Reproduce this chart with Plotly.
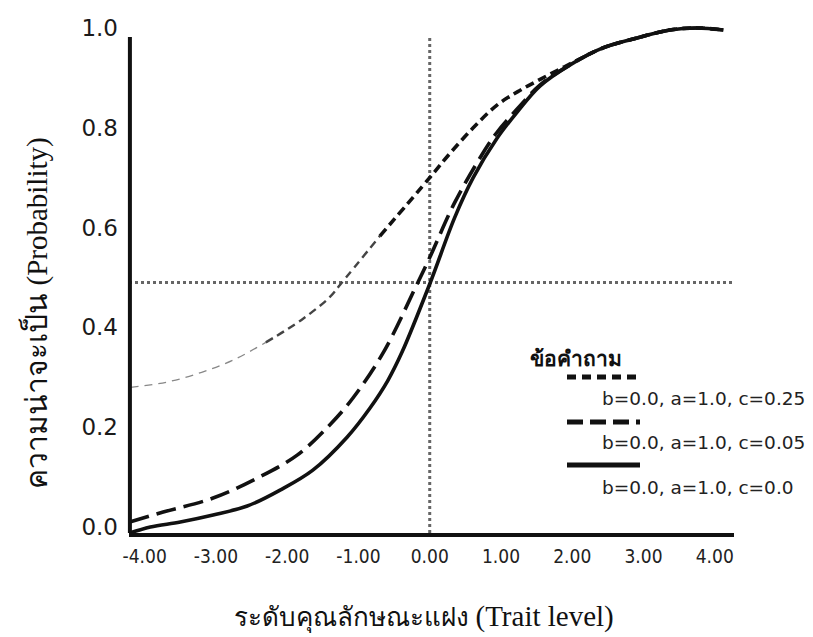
import plotly.graph_objects as go

# ---- data ----
theta_c25 = [-4.2, -3.7, -3.2, -2.75, -2.3, -1.8, -1.4, -1.26, -0.7, 0.0, 0.28, 0.61, 0.94, 1.23, 1.55, 1.97, 2.43, 2.91, 3.37, 3.75, 4.12]
prob_c25 = [0.28, 0.29, 0.31, 0.335, 0.37, 0.415, 0.461, 0.485, 0.583, 0.70, 0.748, 0.80, 0.845, 0.872, 0.897, 0.928, 0.96, 0.98, 0.996, 1.0, 0.996]

theta_c05 = [-4.21, -3.74, -3.04, -2.42, -1.86, -1.4, -1.08, -0.65, -0.2, 0.0, 0.35, 0.75, 0.94, 1.23, 1.55, 1.97, 2.43, 2.91, 3.37, 3.75, 4.12]
prob_c05 = [0.010, 0.030, 0.058, 0.098, 0.144, 0.205, 0.258, 0.350, 0.480, 0.540, 0.650, 0.750, 0.79, 0.838, 0.886, 0.926, 0.96, 0.98, 0.996, 1.0, 0.996]

theta_c0 = [-4.21, -3.92, -3.5, -3.04, -2.56, -2.1, -1.64, -1.16, -0.84, -0.59, -0.39, 0.0, 0.35, 0.61, 0.94, 1.23, 1.55, 1.97, 2.43, 2.91, 3.37, 3.75, 4.12]
prob_c0 = [-0.012, 0.0, 0.010, 0.024, 0.042, 0.074, 0.114, 0.180, 0.238, 0.293, 0.350, 0.487, 0.620, 0.700, 0.778, 0.832, 0.884, 0.926, 0.96, 0.98, 0.996, 1.0, 0.996]

x_ticks = [-4, -3, -2, -1, 0, 1, 2, 3, 4]
x_tick_labels = ["-4.00", "-3.00", "-2.00", "-1.00", "0.00", "1.00", "2.00", "3.00", "4.00"]
y_ticks = [0.0, 0.2, 0.4, 0.6, 0.8, 1.0]
y_tick_labels = ["0.0", "0.2", "0.4", "0.6", "0.8", "1.0"]

legend_title = "ข้อคำถาม"
series_labels = ["b=0.0, a=1.0, c=0.25", "b=0.0, a=1.0, c=0.05", "b=0.0, a=1.0, c=0.0"]
x_title_th, x_title_en = "ระดับคุณลักษณะแฝง", "(Trait level)"
y_title_th, y_title_en = "ความน่าจะเป็น", "(Probability)"
ref_prob = 0.49
ref_theta = 0.0

W, H = 813, 637
ML, MR, MT, MB = 129, 79, 20, 104
PW, PH = W - ML - MR, H - MT - MB


def px(x):
    return (x - ML) / PW


def py(y):
    return (H - MB - y) / PH


fig = go.Figure()

# c = 0.25 drawn in three pieces so it thins towards the left like the reference
seg = [(0, 5, 1.3, "#888888", "8px,6px"), (4, 9, 2.4, "#444444", "8px,5px"), (8, len(theta_c25), 3.6, "#111111", "9px,5px")]
for a, b, w, col, d in seg:
    fig.add_trace(go.Scatter(x=theta_c25[a:b], y=prob_c25[a:b], mode="lines",
                             line=dict(color=col, width=w, dash=d, shape="spline", smoothing=1.0),
                             showlegend=False, hoverinfo="skip"))

fig.add_trace(go.Scatter(x=theta_c05, y=prob_c05, mode="lines",
                         line=dict(color="#111111", width=3.6, dash="20px,8px", shape="spline", smoothing=1.0),
                         showlegend=False, hoverinfo="skip"))
fig.add_trace(go.Scatter(x=theta_c0, y=prob_c0, mode="lines",
                         line=dict(color="#111111", width=3.6, shape="spline", smoothing=1.0),
                         showlegend=False, hoverinfo="skip"))

shapes = []
# reference dotted lines
shapes.append(dict(type="line", xref="x", yref="y", x0=ref_theta, x1=ref_theta, y0=-0.012, y1=0.982,
                   line=dict(color="#666666", width=3, dash="3px,3px"), layer="below"))
shapes.append(dict(type="line", xref="paper", yref="y", x0=0, x1=1.0, y0=ref_prob, y1=ref_prob,
                   line=dict(color="#666666", width=3, dash="3px,3px"), layer="below"))
# y axis line (stops short of the top)
shapes.append(dict(type="line", xref="paper", yref="y", x0=0.0015, x1=0.0015, y0=-0.016, y1=0.982,
                   line=dict(color="#111111", width=4)))

# manual legend
leg_y = [377, 422, 465]
leg_dash = ["9px,6px", "16px,7px", "solid"]
for yy, d in zip(leg_y, leg_dash):
    shapes.append(dict(type="line", xref="paper", yref="paper", x0=px(567), x1=px(640), y0=py(yy), y1=py(yy),
                       line=dict(color="#111111", width=5, dash=d)))

annotations = []
annotations.append(dict(text="<b>" + legend_title + "</b>", x=px(528), y=py(358), xref="paper", yref="paper",
                        xanchor="left", yanchor="middle", showarrow=False,
                        font=dict(size=21, color="#111111", family="Noto Sans, DejaVu Sans, sans-serif")))
for yy, lab in zip([398, 442, 487], series_labels):
    annotations.append(dict(text=lab, x=px(600), y=py(yy), xref="paper", yref="paper",
                            xanchor="left", yanchor="middle", showarrow=False,
                            font=dict(size=18.5, color="#222222", family="DejaVu Sans, sans-serif")))
annotations.append(dict(text=x_title_th + " <span style='font-size:29px'>" + x_title_en + "</span>",
                        x=px(424), y=py(616), xref="paper", yref="paper",
                        xanchor="center", yanchor="middle", showarrow=False,
                        font=dict(size=26, color="#111111", family="Liberation Serif, serif")))
annotations.append(dict(text=y_title_th + " <span style='font-size:29px'>" + y_title_en + "</span>",
                        x=px(36), y=py(313), xref="paper", yref="paper", textangle=-90,
                        xanchor="center", yanchor="middle", showarrow=False,
                        font=dict(size=30, color="#111111", family="Liberation Serif, serif")))

fig.update_layout(
    width=W, height=H,
    margin=dict(l=ML, r=MR, t=MT, b=MB),
    paper_bgcolor="white", plot_bgcolor="white",
    shapes=shapes, annotations=annotations,
    xaxis=dict(range=[-4.22, 4.27], tickvals=x_ticks, ticktext=x_tick_labels, showgrid=False, zeroline=False,
               showline=True, linecolor="#111111", linewidth=4, ticks="", ticklabelstandoff=3,
               tickfont=dict(size=19, color="#222222",
                             family="Liberation Sans Narrow, DejaVu Sans Condensed, Arial Narrow, sans-serif")),
    yaxis=dict(range=[-0.012, 1.016], tickvals=y_ticks, ticktext=y_tick_labels, showgrid=False, zeroline=False,
               showline=False, ticks="", ticklabelstandoff=10,
               tickfont=dict(size=23, color="#1a1a1a", family="DejaVu Sans, sans-serif")),
)

fig.write_html("out.html", config={"displayModeBar": False},
               post_script="document.body.style.margin='0px';document.body.style.overflow='hidden';")
